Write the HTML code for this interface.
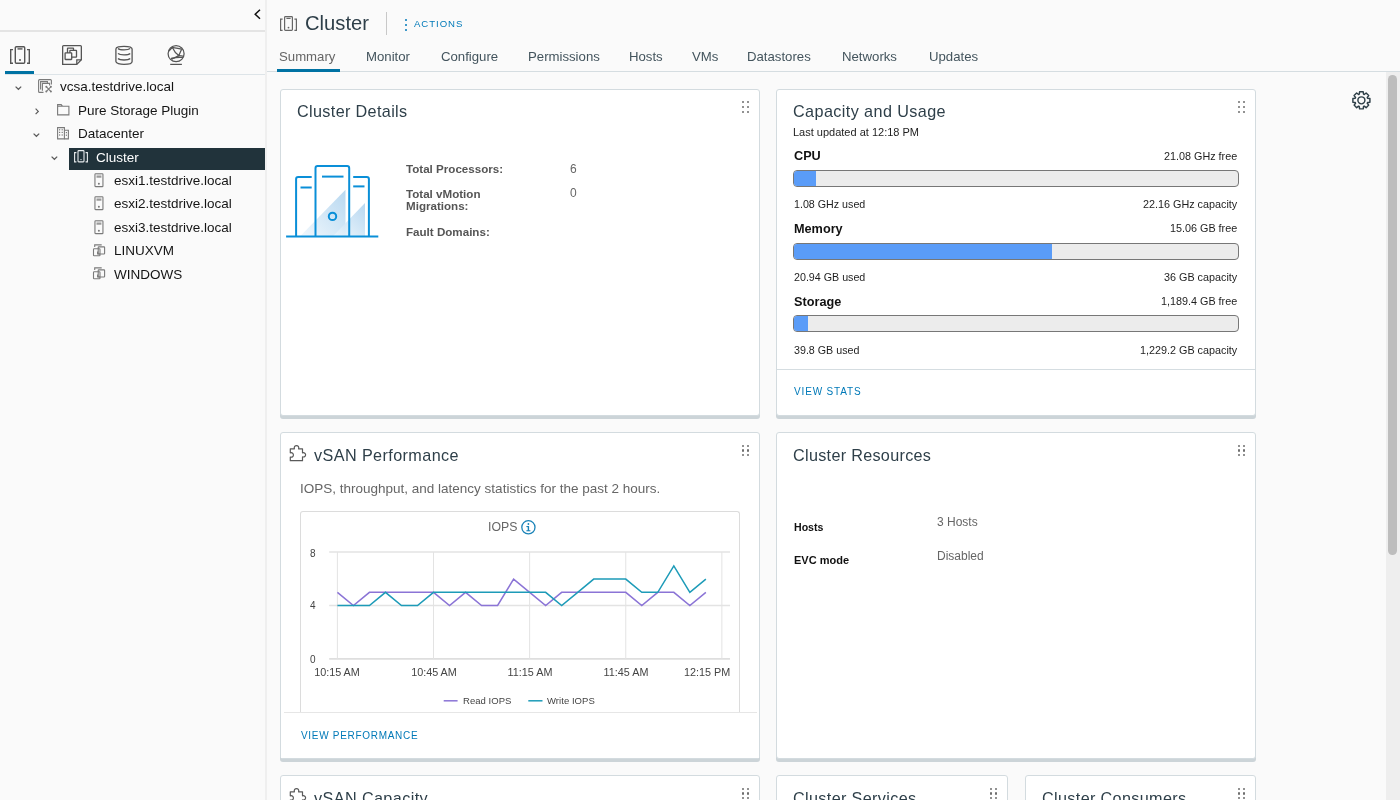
<!DOCTYPE html>
<html><head><meta charset="utf-8"><title>Cluster - Summary</title>
<style>
*{box-sizing:border-box;margin:0;padding:0}
html,body{width:1400px;height:800px;overflow:hidden;background:#fafafa;font-family:"Liberation Sans", Arial, sans-serif;color:#333}
.t{position:absolute;white-space:nowrap;will-change:transform}
.r{position:absolute}
.s{position:absolute;display:block;overflow:visible}
.card{position:absolute;background:#fff;border:1px solid #d3dbdf;border-radius:3px;box-shadow:0 3px 0 0 #ccd4d8}
.hd{position:absolute;width:8px;height:12px}
.hd i{position:absolute;width:2.2px;height:2.2px;background:#6e6e6e;border-radius:1px}
</style></head>
<body>

<div class="r" style="left:265px;top:0px;width:2px;height:800px;background:#efefef;"></div>
<div class="r" style="left:0px;top:30px;width:265px;height:1.5px;background:#e4e4e4;"></div>
<svg class="s" style="left:254px;top:9px" width="8" height="11" viewBox="0 0 8 11"><path d="M6 0.8 L1.2 5.25 L6 9.7" fill="none" stroke="#111" stroke-width="1.5"/></svg>
<svg class="s" style="left:10px;top:46px" width="20" height="18" viewBox="0 0 20 18"><g fill="none" stroke="#555" stroke-width="1.4"><path d="M3 3.6 H0.7 V17.3 H3"/><path d="M17 3.6 H19.3 V17.3 H17"/><rect x="5.3" y="0.7" width="9.4" height="16.6" rx="1"/><path d="M7.5 2.9 H12.5"/></g><circle cx="10" cy="14" r="1" fill="#555"/></svg>
<svg class="s" style="left:62px;top:45px" width="20" height="20" viewBox="0 0 20 20"><g fill="none" stroke="#555" stroke-width="1.3"><path d="M0.65 19.35 V1.6 Q0.65 0.65 1.6 0.65 H18.4 Q19.35 0.65 19.35 1.6 V14.8 L14.8 19.35 Z"/><path d="M19.35 14.8 H14.8 V19.35"/><rect x="5.5" y="3.2" width="6" height="6.6" rx="0.4"/><rect x="7.9" y="5.4" width="6.6" height="6.8" rx="0.4" fill="#fafafa"/><rect x="3.1" y="7.9" width="6.6" height="6.6" rx="0.4" fill="#fafafa"/></g></svg>
<svg class="s" style="left:115px;top:45px" width="18" height="20" viewBox="0 0 18 20"><g fill="none" stroke="#555" stroke-width="1.3"><path d="M0.9 4 C0.9 0.4 17.1 0.4 17.1 4 V16.5 C17.1 20.3 0.9 20.3 0.9 16.5 Z"/><path d="M3 3.6 C5 5.4 13 5.4 15.2 3.6"/><path d="M3 8.4 C5 10.4 13 10.4 15.2 8.4"/><path d="M3 13.5 C5 15.5 13 15.5 15.2 13.5"/></g></svg>
<svg class="s" style="left:167px;top:45px" width="18" height="21" viewBox="0 0 18 21"><g fill="none" stroke="#555" stroke-width="1.25"><circle cx="9.1" cy="8.7" r="8"/><path d="M5.4 2.4 C8 2.8 11 3.2 14.6 4.2"/><path d="M5.4 2.4 C7 6 9 8.6 11.8 10.6"/><path d="M14.6 4.2 C13.6 6.5 12.8 8.5 11.8 10.6"/><path d="M11.8 10.6 C13.5 10.7 15.5 11 16.8 11.3"/><path d="M11.8 10.6 C9.5 12 7.2 13 5 13.6"/><path d="M5 13.6 C8 12.4 12 12.2 16 12.5"/><path d="M5.4 2.4 C4 4 3 5.2 1.6 6.4"/><path d="M3.2 19.4 H14.9"/></g><g fill="#555"><circle cx="5.4" cy="2.5" r="1"/><circle cx="11.8" cy="10.6" r="1.1"/><circle cx="5" cy="13.6" r="1.1"/></g></svg>
<div class="r" style="left:5px;top:74px;width:260px;height:1px;background:#dde4e8;"></div>
<div class="r" style="left:5px;top:71px;width:29px;height:3px;background:#0072a3;"></div>
<svg class="s" style="left:15.25px;top:86.0px" width="7" height="5" viewBox="0 0 7 5"><path d="M0.6 0.6 L3.4 3.3 L6.2 0.6" fill="none" stroke="#5a5a5a" stroke-width="1.2"/></svg>
<svg class="s" style="left:38px;top:79.4px" width="14" height="14" viewBox="0 0 14 14"><g fill="none" stroke="#7a7a7a" stroke-width="1.1"><path d="M5.5 13.4 H1.6 Q0.6 13.4 0.6 12.4 V1.6 Q0.6 0.6 1.6 0.6 H12.4 Q13.4 0.6 13.4 1.6 V5.6"/><path d="M2.6 10.5 V2.6 H9.4 V4.4"/><path d="M4.4 11.8 V4.4 H11.6 V6.4"/><path d="M8.2 7.6 L13 12.6 M13 7.6 L8.2 12.6"/></g><g fill="#7a7a7a"><circle cx="8.3" cy="7.7" r="1"/><circle cx="12.9" cy="7.7" r="1"/><circle cx="8.3" cy="12.5" r="1"/><circle cx="12.9" cy="12.5" r="1"/></g></svg>
<div class="t " style="left:60.40px;top:80.00px;font-size:13.5px;line-height:13.5px;color:#151515;">vcsa.testdrive.local</div>
<svg class="s" style="left:34.75px;top:107.70000000000002px" width="5" height="7" viewBox="0 0 5 7"><path d="M0.6 0.6 L3.3 3.4 L0.6 6.2" fill="none" stroke="#5a5a5a" stroke-width="1.2"/></svg>
<svg class="s" style="left:57px;top:104.30000000000001px" width="12.5" height="11.5" viewBox="0 0 12.5 11.5"><path d="M0.6 10.9 V0.6 H4.2 L5.4 2.2 H11.9 V10.9 Z M0.6 2.2 H5.4" fill="none" stroke="#7a7a7a" stroke-width="1.1"/></svg>
<div class="t " style="left:78.40px;top:104.00px;font-size:13.5px;line-height:13.5px;color:#151515;">Pure Storage Plugin</div>
<svg class="s" style="left:33.25px;top:132.79999999999998px" width="7" height="5" viewBox="0 0 7 5"><path d="M0.6 0.6 L3.4 3.3 L6.2 0.6" fill="none" stroke="#5a5a5a" stroke-width="1.2"/></svg>
<svg class="s" style="left:57px;top:127.19999999999999px" width="12" height="12.5" viewBox="0 0 12 12.5"><g fill="none" stroke="#7a7a7a" stroke-width="1.1"><path d="M0.6 11.9 V0.6 H7.4 V11.9 Z"/><path d="M7.4 3.2 H11.4 V11.9 H7.4"/></g><g fill="#7a7a7a"><rect x="2" y="2.2" width="1.2" height="1.2"/><rect x="4.6" y="2.2" width="1.2" height="1.2"/><rect x="2" y="4.8" width="1.2" height="1.2"/><rect x="4.6" y="4.8" width="1.2" height="1.2"/><rect x="2" y="7.4" width="1.2" height="1.2"/><rect x="4.6" y="7.4" width="1.2" height="1.2"/><rect x="8.8" y="5" width="1.2" height="1.2"/><rect x="8.8" y="7.6" width="1.2" height="1.2"/></g></svg>
<div class="t " style="left:78.40px;top:127.00px;font-size:13.5px;line-height:13.5px;color:#151515;">Datacenter</div>
<div class="r" style="left:69px;top:147.5px;width:196px;height:22.3px;background:#21333b;"></div>
<svg class="s" style="left:51.25px;top:156.2px" width="7" height="5" viewBox="0 0 7 5"><path d="M0.6 0.6 L3.4 3.3 L6.2 0.6" fill="none" stroke="#5a5a5a" stroke-width="1.2"/></svg>
<svg class="s" style="left:74px;top:149.6px" width="14" height="12.5" viewBox="0 0 14 12.5"><g fill="none" stroke="#e8ecee" stroke-width="1.1"><path d="M2.4 2.6 H0.6 V11.9 H2.4"/><path d="M11.6 2.6 H13.4 V11.9 H11.6"/><rect x="4" y="0.6" width="6" height="11.3" rx="0.8"/></g><circle cx="7" cy="9.6" r="0.7" fill="#e8ecee"/></svg>
<div class="t " style="left:96.40px;top:151.00px;font-size:13.5px;line-height:13.5px;color:#fff;">Cluster</div>
<svg class="s" style="left:94px;top:173.0px" width="10" height="14" viewBox="0 0 10 14"><g fill="none" stroke="#7a7a7a" stroke-width="1.1"><rect x="0.95" y="0.75" width="8" height="12.9" rx="0.7"/><path d="M2.5 2.2 H7.4" stroke-opacity="0.5"/><path d="M2.5 3.9 H7.4" stroke-width="1.3"/></g><circle cx="4.9" cy="10.8" r="1" fill="#7a7a7a"/></svg>
<div class="t " style="left:114.40px;top:174.00px;font-size:13.5px;line-height:13.5px;color:#151515;">esxi1.testdrive.local</div>
<svg class="s" style="left:94px;top:196.4px" width="10" height="14" viewBox="0 0 10 14"><g fill="none" stroke="#7a7a7a" stroke-width="1.1"><rect x="0.95" y="0.75" width="8" height="12.9" rx="0.7"/><path d="M2.5 2.2 H7.4" stroke-opacity="0.5"/><path d="M2.5 3.9 H7.4" stroke-width="1.3"/></g><circle cx="4.9" cy="10.8" r="1" fill="#7a7a7a"/></svg>
<div class="t " style="left:114.40px;top:197.00px;font-size:13.5px;line-height:13.5px;color:#151515;">esxi2.testdrive.local</div>
<svg class="s" style="left:94px;top:219.79999999999998px" width="10" height="14" viewBox="0 0 10 14"><g fill="none" stroke="#7a7a7a" stroke-width="1.1"><rect x="0.95" y="0.75" width="8" height="12.9" rx="0.7"/><path d="M2.5 2.2 H7.4" stroke-opacity="0.5"/><path d="M2.5 3.9 H7.4" stroke-width="1.3"/></g><circle cx="4.9" cy="10.8" r="1" fill="#7a7a7a"/></svg>
<div class="t " style="left:114.40px;top:221.00px;font-size:13.5px;line-height:13.5px;color:#151515;">esxi3.testdrive.local</div>
<svg class="s" style="left:93px;top:243.7px" width="12" height="12" viewBox="0 0 12 12"><g fill="none" stroke="#7a7a7a" stroke-width="1.1"><path d="M1.7 3 V0.9 H8.7"/><rect x="5.2" y="2.9" width="6.4" height="7.1" rx="0.6"/><rect x="0.5" y="4.8" width="6.5" height="7" rx="0.6"/><path d="M4.6 7.5 V10 H7"/></g></svg>
<div class="t " style="left:114.40px;top:244.00px;font-size:13.5px;line-height:13.5px;color:#151515;">LINUXVM</div>
<svg class="s" style="left:93px;top:267.1px" width="12" height="12" viewBox="0 0 12 12"><g fill="none" stroke="#7a7a7a" stroke-width="1.1"><path d="M1.7 3 V0.9 H8.7"/><rect x="5.2" y="2.9" width="6.4" height="7.1" rx="0.6"/><rect x="0.5" y="4.8" width="6.5" height="7" rx="0.6"/><path d="M4.6 7.5 V10 H7"/></g></svg>
<div class="t " style="left:114.40px;top:268.00px;font-size:13.5px;line-height:13.5px;color:#151515;">WINDOWS</div>
<svg class="s" style="left:280px;top:16px" width="17" height="15" viewBox="0 0 17 15"><g fill="none" stroke="#666" stroke-width="1.2"><path d="M2.6 3.2 H0.6 V14.4 H2.6"/><path d="M14.4 3.2 H16.4 V14.4 H14.4"/><rect x="4.6" y="0.6" width="7.8" height="13.8" rx="0.8"/><path d="M6.4 2.4 H10.6"/></g><circle cx="8.5" cy="11.6" r="0.9" fill="#666"/></svg>
<div class="t " style="left:305.30px;top:13.00px;font-size:20.2px;line-height:20.2px;color:#2e3f49;">Cluster</div>
<div class="r" style="left:386px;top:12px;width:1px;height:22.5px;background:#c8c8c8;"></div>
<div class="r" style="left:404.9px;top:18.7px;width:2.3px;height:2.3px;background:#0079b8;border-radius:50%"></div>
<div class="r" style="left:404.9px;top:23.95px;width:2.3px;height:2.3px;background:#0079b8;border-radius:50%"></div>
<div class="r" style="left:404.9px;top:29.2px;width:2.3px;height:2.3px;background:#0079b8;border-radius:50%"></div>
<div class="t " style="left:413.80px;top:18.87px;font-size:9.6px;line-height:9.6px;color:#0079b8;font-weight:500;letter-spacing:0.95px;">ACTIONS</div>
<div class="t " style="left:279.40px;top:50.00px;font-size:13.2px;line-height:13.2px;color:#666;">Summary</div>
<div class="t " style="left:365.65px;top:50.00px;font-size:13.2px;line-height:13.2px;color:#43545d;">Monitor</div>
<div class="t " style="left:440.65px;top:50.00px;font-size:13.2px;line-height:13.2px;color:#43545d;">Configure</div>
<div class="t " style="left:528.15px;top:50.00px;font-size:13.2px;line-height:13.2px;color:#43545d;">Permissions</div>
<div class="t " style="left:628.60px;top:50.00px;font-size:13.2px;line-height:13.2px;color:#43545d;">Hosts</div>
<div class="t " style="left:692.10px;top:50.00px;font-size:13.2px;line-height:13.2px;color:#43545d;">VMs</div>
<div class="t " style="left:747.00px;top:50.00px;font-size:13.2px;line-height:13.2px;color:#43545d;">Datastores</div>
<div class="t " style="left:841.90px;top:50.00px;font-size:13.2px;line-height:13.2px;color:#43545d;">Networks</div>
<div class="t " style="left:928.60px;top:50.00px;font-size:13.2px;line-height:13.2px;color:#43545d;">Updates</div>
<div class="r" style="left:267px;top:71px;width:1133px;height:1px;background:#d5dde1;"></div>
<div class="r" style="left:277px;top:69px;width:62.5px;height:3px;background:#0072a3;"></div>
<div class="r" style="left:1386px;top:72px;width:14px;height:728px;background:#eeeeee;"></div>
<div class="r" style="left:1388.3px;top:74.8px;width:8.8px;height:480.5px;background:#bdbdbd;border-radius:4.4px"></div>
<svg class="s" style="left:1350px;top:89px" width="23" height="23" viewBox="0 0 23 23"><g fill="none" stroke="#2d3e47" stroke-width="1.45" stroke-linejoin="round"><path d="M9.28,5.20 L9.59,2.84 L13.21,2.84 L13.52,5.20 L14.25,5.51 L16.14,4.05 L18.70,6.61 L17.24,8.50 L17.55,9.23 L19.91,9.54 L19.91,13.16 L17.55,13.47 L17.24,14.20 L18.70,16.09 L16.14,18.65 L14.25,17.19 L13.52,17.50 L13.21,19.86 L9.59,19.86 L9.28,17.50 L8.55,17.19 L6.66,18.65 L4.10,16.09 L5.56,14.20 L5.25,13.47 L2.89,13.16 L2.89,9.54 L5.25,9.23 L5.56,8.50 L4.10,6.61 L6.66,4.05 L8.55,5.51 Z"/><circle cx="11.4" cy="11.35" r="3.5"/></g></svg>
<div class="card" style="left:280px;top:89px;width:480px;height:326.5px"></div>
<div class="t " style="left:297.30px;top:103.00px;font-size:16.2px;line-height:16.2px;color:#2e3f49;letter-spacing:0.35px;">Cluster Details</div>
<div class="hd" style="left:741.5px;top:101px"><i style="left:0px;top:0px"></i><i style="left:0px;top:4.9px"></i><i style="left:0px;top:9.8px"></i><i style="left:5px;top:0px"></i><i style="left:5px;top:4.9px"></i><i style="left:5px;top:9.8px"></i></div>
<svg class="s" style="left:285px;top:164px" width="94" height="75" viewBox="0 0 94 75"><defs>
<linearGradient id="g1" x1="1" y1="0" x2="0" y2="1"><stop offset="0" stop-color="#abd1ee"/><stop offset="1" stop-color="#eef6fc"/></linearGradient>
</defs>
<g stroke="none" fill="url(#g1)" fill-opacity="0.85">
<path d="M15.4 72 L60.5 25.7 L60.5 72 Z"/>
<path d="M48.2 72 L80 39 L80 72 Z"/>
</g>
<g fill="none" stroke="#0a8fd8" stroke-width="2">
<path d="M11.1 72 V15 Q11.1 12.9 13.2 12.9 H26.7"/>
<path d="M15.5 23.5 H26.7"/>
<path d="M30.5 72 V4.2 Q30.5 2.1 32.6 2.1 H62.1 Q64.2 2.1 64.2 4.2 V72"/>
<path d="M37 12.6 H58.5"/>
<path d="M68.2 12.9 H81.8 Q83.9 12.9 83.9 15 V72"/>
<path d="M68.2 22.4 H79.5"/>
<circle cx="47.5" cy="52.4" r="3.7"/>
<path d="M1.1 72.6 H93.3"/>
</g></svg>
<div class="t " style="left:405.80px;top:163.00px;font-size:11.6px;line-height:11.6px;color:#555;font-weight:700;">Total Processors:</div>
<div class="t " style="left:569.50px;top:162.74px;font-size:12px;line-height:12px;color:#666;">6</div>
<div class="t " style="left:405.80px;top:188.00px;font-size:11.6px;line-height:11.6px;color:#555;font-weight:700;">Total vMotion</div>
<div class="t " style="left:405.80px;top:200.00px;font-size:11.6px;line-height:11.6px;color:#555;font-weight:700;">Migrations:</div>
<div class="t " style="left:569.50px;top:187.34px;font-size:12px;line-height:12px;color:#666;">0</div>
<div class="t " style="left:405.80px;top:226.00px;font-size:11.6px;line-height:11.6px;color:#555;font-weight:700;">Fault Domains:</div>
<div class="card" style="left:776px;top:89px;width:480px;height:326.5px"></div>
<div class="t " style="left:793.00px;top:103.00px;font-size:16.2px;line-height:16.2px;color:#2e3f49;letter-spacing:0.4px;">Capacity and Usage</div>
<div class="t " style="left:793.00px;top:126.89px;font-size:11px;line-height:11px;color:#1e1e1e;">Last updated at 12:18 PM</div>
<div class="hd" style="left:1237.8px;top:101px"><i style="left:0px;top:0px"></i><i style="left:0px;top:4.9px"></i><i style="left:0px;top:9.8px"></i><i style="left:5px;top:0px"></i><i style="left:5px;top:4.9px"></i><i style="left:5px;top:9.8px"></i></div>
<div class="t " style="left:794.30px;top:150.00px;font-size:12.7px;line-height:12.7px;color:#111;font-weight:700;">CPU</div>
<div class="t" style="right:162.50px;top:151.00px;font-size:10.8px;line-height:10.8px;color:#1e1e1e;">21.08 GHz free</div>
<div class="r" style="left:793px;top:170.10px;width:446px;height:17px;background:#ececec;border:1px solid #777;border-radius:4px;overflow:hidden"><div style="width:4.9%;height:100%;background:#5a9cf8"></div></div>
<div class="t " style="left:794.30px;top:199.00px;font-size:10.7px;line-height:10.7px;color:#1e1e1e;">1.08 GHz used</div>
<div class="t" style="right:162.50px;top:199.00px;font-size:10.8px;line-height:10.8px;color:#1e1e1e;">22.16 GHz capacity</div>
<div class="t " style="left:794.30px;top:223.00px;font-size:12.7px;line-height:12.7px;color:#111;font-weight:700;">Memory</div>
<div class="t" style="right:162.50px;top:223.00px;font-size:10.8px;line-height:10.8px;color:#1e1e1e;">15.06 GB free</div>
<div class="r" style="left:793px;top:242.90px;width:446px;height:17px;background:#ececec;border:1px solid #777;border-radius:4px;overflow:hidden"><div style="width:58.2%;height:100%;background:#5a9cf8"></div></div>
<div class="t " style="left:794.30px;top:272.00px;font-size:10.7px;line-height:10.7px;color:#1e1e1e;">20.94 GB used</div>
<div class="t" style="right:162.50px;top:272.00px;font-size:10.8px;line-height:10.8px;color:#1e1e1e;">36 GB capacity</div>
<div class="t " style="left:794.30px;top:296.00px;font-size:12.7px;line-height:12.7px;color:#111;font-weight:700;">Storage</div>
<div class="t" style="right:162.50px;top:296.00px;font-size:10.8px;line-height:10.8px;color:#1e1e1e;">1,189.4 GB free</div>
<div class="r" style="left:793px;top:315.40px;width:446px;height:17px;background:#ececec;border:1px solid #777;border-radius:4px;overflow:hidden"><div style="width:3.2%;height:100%;background:#5a9cf8"></div></div>
<div class="t " style="left:794.30px;top:345.00px;font-size:10.7px;line-height:10.7px;color:#1e1e1e;">39.8 GB used</div>
<div class="t" style="right:162.50px;top:345.00px;font-size:10.8px;line-height:10.8px;color:#1e1e1e;">1,229.2 GB capacity</div>
<div class="r" style="left:777px;top:369px;width:478px;height:1px;background:#d5dde1;"></div>
<div class="t " style="left:793.80px;top:386.94px;font-size:10px;line-height:10px;color:#0079b8;font-weight:500;letter-spacing:0.85px;">VIEW STATS</div>
<div class="card" style="left:280px;top:432px;width:480px;height:326.5px"></div>
<svg class="s" style="left:289px;top:444.5px" width="18" height="17" viewBox="0 0 18 17"><path d="M1.3 3.8 H5.4 C4.8 1.6 6 0.7 7.5 0.7 C9 0.7 10.2 1.6 9.6 3.8 H13.5 V7.8 C15.6 7.4 16.6 8.6 16.6 9.85 C16.6 11.1 15.6 12.3 13.5 11.9 V15.7 H1.3 V12.1 C3.4 12.5 4.4 11.3 4.4 9.95 C4.4 8.6 3.4 7.4 1.3 7.8 Z" fill="none" stroke="#5a5a5a" stroke-width="1.2" stroke-linejoin="round"/></svg>
<div class="t " style="left:314.40px;top:447.00px;font-size:16.2px;line-height:16.2px;color:#2e3f49;letter-spacing:0.4px;">vSAN Performance</div>
<div class="hd" style="left:741.5px;top:444.5px"><i style="left:0px;top:0px"></i><i style="left:0px;top:4.9px"></i><i style="left:0px;top:9.8px"></i><i style="left:5px;top:0px"></i><i style="left:5px;top:4.9px"></i><i style="left:5px;top:9.8px"></i></div>
<div class="t " style="left:299.60px;top:482.00px;font-size:13.5px;line-height:13.5px;color:#666;">IOPS, throughput, and latency statistics for the past 2 hours.</div>
<div class="r" style="left:300px;top:510.5px;width:440px;height:202px;border:1px solid #dcdcdc;border-bottom:none;border-radius:3px 3px 0 0;background:#fff"></div>
<div class="t " style="left:488.20px;top:521.00px;font-size:12.3px;line-height:12.3px;color:#666;">IOPS</div>
<svg class="s" style="left:520.9px;top:520.1px" width="15" height="15" viewBox="0 0 15 15"><circle cx="7.4" cy="7.3" r="6.6" fill="none" stroke="#1a83b8" stroke-width="1.3"/><rect x="6.7" y="6" width="1.4" height="5" fill="#1a83b8"/><rect x="5.4" y="6" width="2.2" height="1.1" fill="#1a83b8"/><rect x="5.4" y="10.2" width="4" height="1.1" fill="#1a83b8"/><circle cx="7.4" cy="4" r="0.9" fill="#1a83b8"/></svg>
<svg class="s" style="left:0;top:0" width="1400" height="800"><path d="M329.2 552.10 H730" stroke="#e3e3e3" stroke-width="1.5"/><path d="M329.2 605.50 H730" stroke="#e3e3e3" stroke-width="1.5"/><path d="M329.2 658.9 H730" stroke="#dedede" stroke-width="1.8"/><path d="M337.40 552 V658.9" stroke="#e3e3e3" stroke-width="1"/><path d="M433.52 552 V658.9" stroke="#e3e3e3" stroke-width="1"/><path d="M529.64 552 V658.9" stroke="#e3e3e3" stroke-width="1"/><path d="M625.76 552 V658.9" stroke="#e3e3e3" stroke-width="1"/><path d="M721.88 552 V658.9" stroke="#e3e3e3" stroke-width="1"/><polyline points="337.40,592.30 353.42,605.50 369.44,592.30 385.46,592.30 401.48,592.30 417.50,592.30 433.52,592.30 449.54,605.50 465.56,592.30 481.58,605.50 497.60,605.50 513.62,579.10 529.64,592.30 545.66,605.50 561.68,592.30 577.70,592.30 593.72,592.30 609.74,592.30 625.76,592.30 641.78,605.50 657.80,592.30 673.82,592.30 689.84,605.50 705.86,592.30" fill="none" stroke="#8b74d6" stroke-width="1.5" stroke-linejoin="miter"/><polyline points="337.40,605.50 353.42,605.50 369.44,605.50 385.46,592.30 401.48,605.50 417.50,605.50 433.52,592.30 449.54,592.30 465.56,592.30 481.58,592.30 497.60,592.30 513.62,592.30 529.64,592.30 545.66,592.30 561.68,605.50 577.70,592.30 593.72,579.10 609.74,579.10 625.76,579.10 641.78,592.30 657.80,592.30 673.82,565.90 689.84,592.30 705.86,579.10" fill="none" stroke="#1d9bb8" stroke-width="1.5" stroke-linejoin="miter"/><path d="M443.7 700.8 H457.6" stroke="#8b74d6" stroke-width="1.5"/><path d="M528.3 700.8 H542.5" stroke="#1d9bb8" stroke-width="1.5"/></svg>
<div class="t " style="left:309.80px;top:548.74px;font-size:10px;line-height:10px;color:#444;">8</div>
<div class="t " style="left:309.80px;top:601.33px;font-size:10px;line-height:10px;color:#444;">4</div>
<div class="t " style="left:309.80px;top:654.74px;font-size:10px;line-height:10px;color:#444;">0</div>
<div class="t" style="left:297.40px;width:80px;text-align:center;top:667.00px;font-size:10.8px;line-height:10.8px;color:#444">10:15 AM</div>
<div class="t" style="left:393.52px;width:80px;text-align:center;top:667.00px;font-size:10.8px;line-height:10.8px;color:#444">10:45 AM</div>
<div class="t" style="left:489.64px;width:80px;text-align:center;top:667.00px;font-size:10.8px;line-height:10.8px;color:#444">11:15 AM</div>
<div class="t" style="left:585.76px;width:80px;text-align:center;top:667.00px;font-size:10.8px;line-height:10.8px;color:#444">11:45 AM</div>
<div class="t" style="right:670.20px;top:667.00px;font-size:10.8px;line-height:10.8px;color:#444;">12:15 PM</div>
<div class="t " style="left:462.50px;top:695.96px;font-size:9.5px;line-height:9.5px;color:#444;letter-spacing:0.05px;">Read IOPS</div>
<div class="t " style="left:546.80px;top:695.96px;font-size:9.5px;line-height:9.5px;color:#444;letter-spacing:0.05px;">Write IOPS</div>
<div class="r" style="left:281px;top:712px;width:478px;height:46px;background:#fff"></div>
<div class="r" style="left:283.5px;top:712px;width:473px;height:1px;background:#e6e6e6;"></div>
<div class="t " style="left:300.80px;top:730.74px;font-size:10px;line-height:10px;color:#0079b8;font-weight:500;letter-spacing:0.7px;">VIEW PERFORMANCE</div>
<div class="card" style="left:776px;top:432px;width:480px;height:326.5px"></div>
<div class="t " style="left:793.30px;top:447.00px;font-size:16.2px;line-height:16.2px;color:#2e3f49;letter-spacing:0.3px;">Cluster Resources</div>
<div class="hd" style="left:1237.8px;top:444.5px"><i style="left:0px;top:0px"></i><i style="left:0px;top:4.9px"></i><i style="left:0px;top:9.8px"></i><i style="left:5px;top:0px"></i><i style="left:5px;top:4.9px"></i><i style="left:5px;top:9.8px"></i></div>
<div class="t " style="left:793.50px;top:522.00px;font-size:10.6px;line-height:10.6px;color:#111;font-weight:700;">Hosts</div>
<div class="t " style="left:793.50px;top:554.99px;font-size:11px;line-height:11px;color:#111;font-weight:700;">EVC mode</div>
<div class="t " style="left:936.80px;top:516.44px;font-size:12px;line-height:12px;color:#666;">3 Hosts</div>
<div class="t " style="left:936.80px;top:549.74px;font-size:12px;line-height:12px;color:#666;">Disabled</div>
<div class="card" style="left:280px;top:775.4px;width:480px;height:200px"></div>
<svg class="s" style="left:289px;top:787.5px" width="18" height="17" viewBox="0 0 18 17"><path d="M1.3 3.8 H5.4 C4.8 1.6 6 0.7 7.5 0.7 C9 0.7 10.2 1.6 9.6 3.8 H13.5 V7.8 C15.6 7.4 16.6 8.6 16.6 9.85 C16.6 11.1 15.6 12.3 13.5 11.9 V15.7 H1.3 V12.1 C3.4 12.5 4.4 11.3 4.4 9.95 C4.4 8.6 3.4 7.4 1.3 7.8 Z" fill="none" stroke="#5a5a5a" stroke-width="1.2" stroke-linejoin="round"/></svg>
<div class="t " style="left:314.40px;top:790.00px;font-size:16.2px;line-height:16.2px;color:#2e3f49;letter-spacing:0.4px;">vSAN Capacity</div>
<div class="hd" style="left:741.5px;top:787.5px"><i style="left:0px;top:0px"></i><i style="left:0px;top:4.9px"></i><i style="left:0px;top:9.8px"></i><i style="left:5px;top:0px"></i><i style="left:5px;top:4.9px"></i><i style="left:5px;top:9.8px"></i></div>
<div class="card" style="left:776px;top:775.4px;width:232px;height:200px"></div>
<div class="t " style="left:793.30px;top:790.00px;font-size:16.2px;line-height:16.2px;color:#2e3f49;letter-spacing:0.35px;">Cluster Services</div>
<div class="hd" style="left:990px;top:787.5px"><i style="left:0px;top:0px"></i><i style="left:0px;top:4.9px"></i><i style="left:0px;top:9.8px"></i><i style="left:5px;top:0px"></i><i style="left:5px;top:4.9px"></i><i style="left:5px;top:9.8px"></i></div>
<div class="card" style="left:1024.5px;top:775.4px;width:231.5px;height:200px"></div>
<div class="t " style="left:1041.70px;top:790.00px;font-size:16.2px;line-height:16.2px;color:#2e3f49;letter-spacing:0.35px;">Cluster Consumers</div>
<div class="hd" style="left:1237.8px;top:787.5px"><i style="left:0px;top:0px"></i><i style="left:0px;top:4.9px"></i><i style="left:0px;top:9.8px"></i><i style="left:5px;top:0px"></i><i style="left:5px;top:4.9px"></i><i style="left:5px;top:9.8px"></i></div>
</body></html>
